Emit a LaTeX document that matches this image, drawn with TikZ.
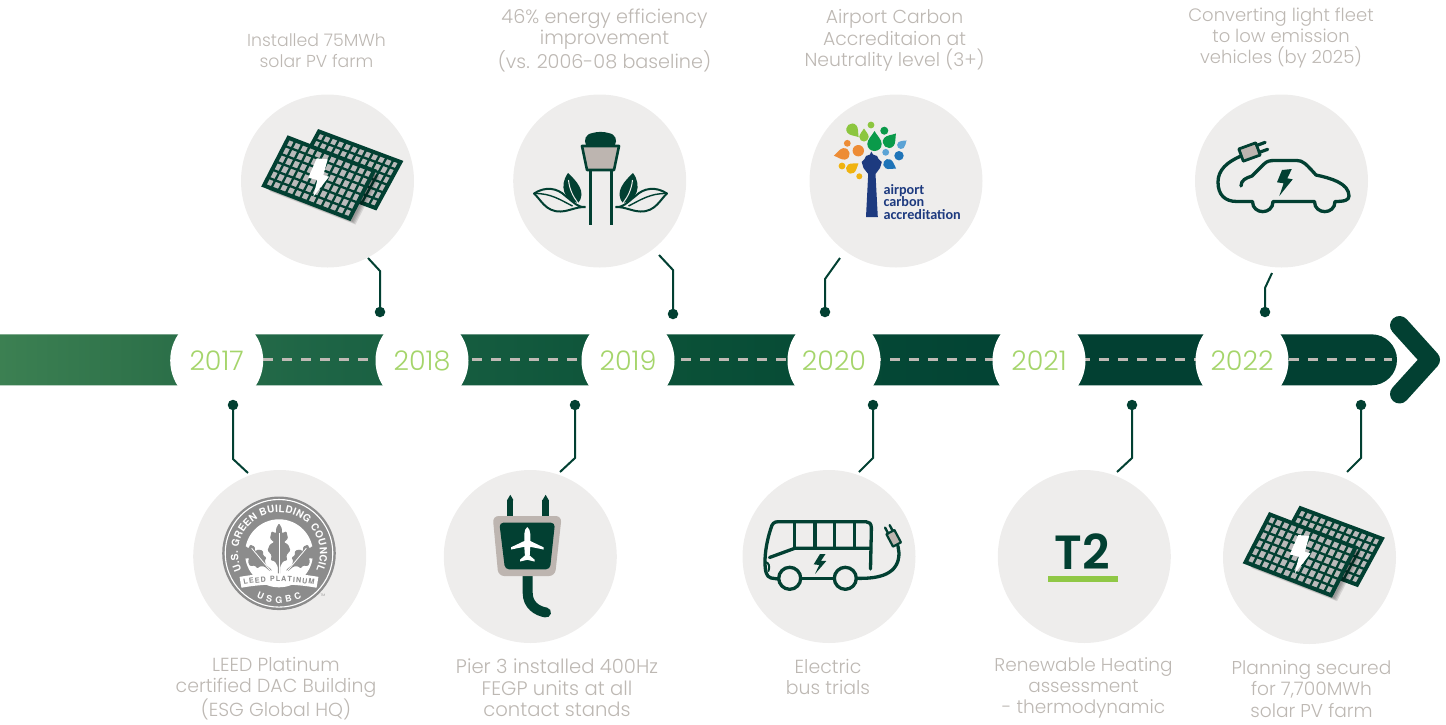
\documentclass[tikz,border=0pt]{standalone}
\usepackage{fontspec}
\setmainfont{Poppins Light}
\newfontfamily\tfont{Poppins SemiBold}
\newfontfamily\acafont{Carlito Bold}
\newfontfamily\seal{TeX Gyre Heros Bold}
\usetikzlibrary{decorations.text,calc}
\definecolor{dg}{HTML}{024032}
\definecolor{lab}{HTML}{BDB8B3}
\definecolor{yr}{HTML}{A5D56B}
\definecolor{disc}{HTML}{EEEDEC}
\definecolor{taupe}{HTML}{BDB5B0}
\definecolor{dashc}{HTML}{C0BAB5}
\definecolor{cellc}{HTML}{BABABA}
\definecolor{sealg}{HTML}{8C8C8C}
\definecolor{navy}{HTML}{1D3A7F}
\definecolor{acg}{HTML}{0A9A4A}
\definecolor{acl}{HTML}{8CC63F}
\definecolor{aco}{HTML}{ED8C35}
\definecolor{acy}{HTML}{F0B310}
\definecolor{acb}{HTML}{1F74B8}
\definecolor{acs}{HTML}{5BA3D5}
\pgfdeclarehorizontalshading{barshade}{100bp}{
 rgb(0bp)=(0.235,0.502,0.322);
 rgb(25bp)=(0.235,0.502,0.322);
 rgb(31bp)=(0.173,0.439,0.286);
 rgb(35.75bp)=(0.122,0.400,0.275);
 rgb(43bp)=(0.075,0.353,0.243);
 rgb(50bp)=(0.039,0.314,0.216);
 rgb(57bp)=(0.016,0.278,0.208);
 rgb(64.5bp)=(0.008,0.251,0.196);
 rgb(100bp)=(0.008,0.251,0.196)}
\tikzset{
 x=1pt,y=-1pt,
 disk/.style={circle,fill=disc,minimum size=173pt,inner sep=0pt},
 yearc/.style={circle,fill=white,minimum size=93pt,inner sep=0pt,text=yr,font=\fontsize{27}{27}\selectfont},
 lbl/.style={text=lab,align=center,inner sep=0pt,font=\fontsize{#1}{21.4}\selectfont},
 lbl/.default=18.8,
 dot/.style={circle,fill=dg,minimum size=10.5pt,inner sep=0pt},
 conn/.style={draw=dg,line width=2pt},
 ico/.style={draw=dg,line width=3.3pt,line cap=round,line join=round},
 seg/.style={draw=dashc,line width=2.4pt,dash pattern=on 10pt off 9pt}
}
\newcommand{\panelgrid}[6]{% x y ux uy vx vy
 \fill[cellc] (#1,#2) -- ++(#3,#4) -- ++(#5,#6) -- ++(-#3,-#4) -- cycle;
 \foreach \i in {1,...,11}{\draw[dg,line width=2.3pt] ({#1+\i*(#3)/12},{#2+\i*(#4)/12}) -- ++(#5,#6);}
 \foreach \j in {1,...,5}{\draw[dg,line width=2.3pt] ({#1+\j*(#5)/6},{#2+\j*(#6)/6}) -- ++(#3,#4);}
 \draw[dg,line width=4pt,line join=miter] (#1,#2) -- ++(#3,#4) -- ++(#5,#6) -- ++(-#3,-#4) -- cycle;
}
\newcommand{\solar}[2]{\begin{scope}[shift={(#1,#2)}]
 \panelgrid{30.5}{-6.3}{81.5}{30.5}{-25}{46}
 \foreach \o in {6,5,4,3}{\fill[black,opacity=0.10] (\o,\o) -- ++(85.5,33) -- ++(-24.5,47.7) -- ++(-85.5,-33) -- cycle;}
 \panelgrid{0}{0}{85.5}{33}{-24.5}{47.7}
 \fill[white] (28.2,20.5) -- (39.2,21.5) -- (34.8,37.2) -- (40.5,38.9) -- (24.8,58.9) -- (28.8,42.2) -- (19.8,39.9) -- cycle;
\end{scope}}
\newcommand{\drop}[5]{% x y angle size colour
 \fill[#5,shift={(#1,#2)},rotate=#3] (0,-#4) .. controls ({.25*#4},{-.55*#4}) and ({.72*#4},{-.15*#4}) .. ({.72*#4},{.3*#4}) .. controls ({.72*#4},{.75*#4}) and ({.35*#4},{#4}) .. (0,{#4}) .. controls ({-.35*#4},{#4}) and ({-.72*#4},{.75*#4}) .. ({-.72*#4},{.3*#4}) .. controls ({-.72*#4},{-.15*#4}) and ({-.25*#4},{-.55*#4}) .. cycle;
}
\newcommand{\halfoak}{(0,30) -- (3.5,25) -- (3.5,20) -- (9,22) -- (11,15) -- (6,11) -- (11,9) -- (14,3) -- (9,-2) -- (10,-7) -- (5,-8) -- (1.5,-13) -- (1.5,-24) -- (-1.5,-24) -- (-1.5,-13) -- (-5,-8) -- (-10,-7) -- (-9,-2) -- (-14,3) -- (-11,9) -- (-6,11) -- (-11,15) -- (-9,22) -- (-3.5,20) -- (-3.5,25) -- cycle}
\begin{document}
\begin{tikzpicture}
\useasboundingbox (0,0) rectangle (1446,724);

% ---------- timeline bar
\path[shade,shading=barshade] (0,334.3) -- (1371.5,334.3) .. controls (1385.6,334.3) and (1397,345.7) .. (1397,359.8) .. controls (1397,373.9) and (1385.6,385.3) .. (1371.5,385.3) -- (0,385.3) -- cycle;
\coordinate (dashA) at (263,359.5);
\coordinate (dashB) at (1392,359.5);
\draw[seg] (dashA) -- (dashB);
\coordinate (chevA) at (1399.5,325.5);
\coordinate (chevT) at (1430.5,359.8);
\coordinate (chevB) at (1399.5,394);
\draw[dg,line width=19pt,line cap=round,line join=round] (chevA) -- (chevT) -- (chevB);
\node[yearc] (y17) at (216.7,360.5) {2017};
\node[yearc] (y18) at (422,360.5) {2018};
\node[yearc] (y19) at (628,360.5) {2019};
\node[yearc] (y20) at (834,360.5) {2020};
\node[yearc] (y21) at (1039,360.5) {2021};
\node[yearc] (y22) at (1242,360.5) {2022};

% ---------- discs
\node[disk] (t1) at (327.5,181) {};
\node[disk] (t2) at (599.7,181) {};
\node[disk] (t3) at (896,181) {};
\node[disk] (t4) at (1281.5,181) {};
\node[disk] (b1) at (279.7,556.5) {};
\node[disk] (b2) at (530.3,556.5) {};
\node[disk] (b3) at (829,556.5) {};
\node[disk] (b4) at (1084.3,556.5) {};
\node[disk] (b5) at (1309.5,557.5) {};

% ---------- connectors
\node[dot] (dt1) at (380,312) {};
\coordinate (kt1) at (380,271); \coordinate (et1) at (368,258);
\draw[conn] (dt1.center) -- (kt1) -- (et1);
\node[dot] (dt2) at (673,314) {};
\coordinate (kt2) at (673,270); \coordinate (et2) at (659,255);
\draw[conn] (dt2.center) -- (kt2) -- (et2);
\node[dot] (dt3) at (825,312) {};
\coordinate (kt3) at (825,279); \coordinate (et3) at (840,258);
\draw[conn] (dt3.center) -- (kt3) -- (et3);
\node[dot] (dt4) at (1265,312) {};
\coordinate (kt4) at (1265,288); \coordinate (et4) at (1272,273);
\draw[conn] (dt4.center) -- (kt4) -- (et4);
\node[dot] (db1) at (233,405) {};
\coordinate (kb1) at (233,459); \coordinate (eb1) at (248,473);
\draw[conn] (db1.center) -- (kb1) -- (eb1);
\node[dot] (db2) at (575,405) {};
\coordinate (kb2) at (575,458); \coordinate (eb2) at (560,472);
\draw[conn] (db2.center) -- (kb2) -- (eb2);
\node[dot] (db3) at (873,405) {};
\coordinate (kb3) at (873,458); \coordinate (eb3) at (859,472);
\draw[conn] (db3.center) -- (kb3) -- (eb3);
\node[dot] (db4) at (1132,405) {};
\coordinate (kb4) at (1132,458); \coordinate (eb4) at (1117,472);
\draw[conn] (db4.center) -- (kb4) -- (eb4);
\node[dot] (db5) at (1361,405) {};
\coordinate (kb5) at (1361,458); \coordinate (eb5) at (1347,472);
\draw[conn] (db5.center) -- (kb5) -- (eb5);

% ---------- labels
\node[lbl=17.3] (lt1) at (316.5,50.5) {Installed 75MWh\\solar PV farm};
\node[lbl=19.2] (lt2) at (604.5,40.5) {46\% energy efficiency\\improvement\\(vs. 2006-08 baseline)};
\node[lbl=18.8] (lt3) at (894.5,40.5) {Airport Carbon\\Accreditaion at\\Neutrality level (3+)};
\node[lbl=18] (lt4) at (1281,38) {Converting light fleet\\to low emission\\vehicles (by 2025)};
\node[lbl=18.9] (lb1) at (276,688.5) {LEED Platinum\\certified DAC Building\\(ESG Global HQ)};
\node[lbl=19.6] (lb2) at (557,688) {Pier 3 installed 400Hz\\FEGP units at all\\contact stands};
\node[lbl=18.9] (lb3) at (828,677) {Electric\\bus trials};
\node[lbl=18.5] (lb4) at (1083.5,688) {Renewable Heating\\assessment\\- thermodynamic};
\node[lbl=18.6] (lb5) at (1311.5,689) {Planning secured\\for 7,700MWh\\solar PV farm};

% ---------- solar icons
\solar{288.5}{137.8}
\solar{1270}{514.5}

% ---------- tower icon
\begin{scope}[shift={(600.5,0)}]
 \fill[dg] (-14.5,145) .. controls (-17,140) and (-15,134) .. (-8,133) .. controls (-3,131.5) and (3,131.5) .. (8,133) .. controls (15,134) and (17,140) .. (14.5,145) -- cycle;
 \filldraw[fill=taupe,draw=dg,line width=2.6pt,line join=round] (-18.5,146) -- (18.5,146) -- (13.5,170) -- (-13.5,170) -- cycle;
 \draw[dg,line width=3pt] (-10.5,170) -- (-10.5,225) (10.5,170) -- (10.5,225);
 \foreach \s in {-1,1}{\begin{scope}[xscale=\s]
  \fill[dg] (-32.5,173) .. controls (-25,180) and (-13,192) .. (-22.5,203) .. controls (-36,201) and (-42,186) .. cycle;
  \draw[disc,line width=1pt] (-32,180) .. controls (-31,190) and (-27,197) .. (-22.5,203);
  \draw[dg,line width=2pt,line join=round] (-15,207) .. controls (-22,208) and (-26,203) .. (-35,196) .. controls (-43,188) and (-55,186) .. (-66.5,193.5) .. controls (-60,199) and (-55,212) .. (-40,211.5) .. controls (-30,211) and (-26,207) .. (-15,207);
  \draw[dg,line width=1.4pt] (-66.5,193.5) .. controls (-50,193) and (-40,200) .. (-28,206);
 \end{scope}}
\end{scope}

% ---------- airport carbon accreditation logo
\drop{874.5}{141}{0}{10}{acg}
\drop{853.5}{131}{-140}{8}{acl}
\drop{864}{135}{0}{6.5}{acl}
\drop{890.5}{140}{-40}{8.5}{acg}
\drop{902.3}{144}{-50}{5.5}{acs}
\drop{841.7}{154.3}{100}{8}{aco}
\drop{852.7}{167.5}{-55}{7}{acy}
\drop{890}{165}{-120}{7}{acb}
\fill[acl] (871,125) circle[radius=3.4pt];
\fill[acg] (884.3,130.7) circle[radius=4pt];
\fill[aco] (847.3,143.3) circle[radius=3.4pt];
\fill[aco] (858.3,150.7) circle[radius=5.7pt];
\fill[acy] (842,166) circle[radius=3.4pt];
\fill[acy] (859.3,176.3) circle[radius=3pt];
\fill[acs] (885.7,152.3) circle[radius=3.4pt];
\fill[acb] (899,155.7) circle[radius=4.7pt];
\fill[navy] (871.3,151.5) -- (873,154.5) -- (877,156) -- (878.5,159) -- (881.8,162) -- (880,168) -- (875.5,174) -- (877.8,217) -- (866,217) -- (868.2,174) -- (863.5,168) -- (861.7,162) -- (864.5,159) -- (866,156) -- (870,154.5) -- cycle;
\node[text=navy,anchor=south west,align=left,inner sep=0pt,font=\acafont\fontsize{14.2}{12.2}\selectfont] (aca) at (883.3,219.3) {airport\\carbon\\accreditation};

% ---------- EV icon
\draw[ico] (1241,186) .. controls (1241,180) and (1246,178) .. (1252,176) -- (1264,164) .. controls (1267,161) and (1270,160.5) .. (1275,160.5) -- (1297,160.5) .. controls (1303,160.5) and (1306,164) .. (1316,175) .. controls (1330,178) and (1349,183) .. (1349,196) .. controls (1349,200) and (1345,201.5) .. (1335,201.5) .. controls (1335,215) and (1314.5,215) .. (1314.5,201.5) -- (1273,201.5) .. controls (1273,215) and (1252.5,215) .. (1252.5,201.5) -- (1237,201.5) .. controls (1225,201.5) and (1218,195) .. (1218,182) .. controls (1218,170) and (1227,162) .. (1241,156);
\fill[dg] (1282,170) -- (1291.8,169) -- (1287.3,178.3) -- (1292.7,179.3) -- (1279.3,196) -- (1283.6,183.3) -- (1277,182.3) -- cycle;
\begin{scope}[shift={(1249.5,152)},rotate=20]
 \filldraw[fill=taupe,draw=dg,line width=2.8pt,line join=round] (-9,-6.5) rectangle (9,6.5);
 \draw[dg,line width=3.2pt,line cap=round] (9,-3.7) -- (18,-3.7) (9,3.7) -- (18,3.7);
\end{scope}

% ---------- LEED seal
\begin{scope}[shift={(279,553.3)},y=1pt]
 \fill[sealg] (0,0) circle[radius=56.8pt];
 \draw[white,line width=1.1pt] (0,0) circle[radius=53.8pt];
 \fill[white] (0,0) circle[radius=34pt];
 \begin{scope}[shift={(0,-24)}]
  \fill[sealg,rounded corners=1pt,xscale=.82,shift={(0,24)}] \halfoak;
  \fill[sealg,rounded corners=1pt,rotate=50,scale=.72,shift={(0,38)}] \halfoak;
  \fill[sealg,rounded corners=1pt,rotate=-50,scale=.72,shift={(0,38)}] \halfoak;
  \draw[white,line width=.9pt] (0,0) -- (0,44);
  \draw[white,line width=.8pt] (-3,0) -- ++(130:38);
  \draw[white,line width=.8pt] (3,0) -- ++(50:38);
 \end{scope}
 \draw[white,line width=11pt] (-38.5,-29) .. controls (-14,-24.5) and (14,-24.5) .. (38.5,-29);
 \path[postaction={decorate,decoration={text along path,text align={fit to path},raise=-2.7pt,text={|\seal\fontsize{7.2}{8}\selectfont\color{sealg}|LEED PLATINUM}}}] (-35.5,-29) .. controls (-13,-24.5) and (13,-24.5) .. (35.5,-29);
 \path[postaction={decorate,decoration={text along path,text align={fit to path},text={|\seal\fontsize{10}{10}\selectfont\color{white}|U.S. GREEN BUILDING COUNCIL}}}] (205:41) arc[start angle=205,end angle=-25,radius=41pt];
 \path[postaction={decorate,decoration={text along path,text align={fit to path},text={|\seal\fontsize{9}{9}\selectfont\color{white}|USGBC}}}] (243:50) arc[start angle=243,end angle=297,radius=50pt];
\end{scope}
\node[text=sealg,inner sep=0pt,font=\fontsize{3.5}{4}\selectfont] (tm) at (323,595.5) {TM};

% ---------- plug icon
\draw[dg,line width=6.3pt,line cap=butt] (510.3,517) -- (510.3,500) (545.6,517) -- (545.6,500);
\fill[dg] (507.1,500.2) -- (510.3,494.8) -- (513.5,500.2) -- cycle;
\fill[dg] (542.4,500.2) -- (545.6,494.8) -- (548.8,500.2) -- cycle;
\draw[dg,line width=10pt,line cap=round] (527.7,570) -- (527.7,593) .. controls (527.7,605) and (537,611) .. (546,612.5);
\fill[taupe,rounded corners=6pt] (492.7,516) -- (561.7,516) -- (555,576) -- (498.3,576) -- cycle;
\fill[dg,rounded corners=4pt] (499.3,522.7) -- (555,522.7) -- (550,569.3) -- (505,569.3) -- cycle;
\fill[white] (527.3,527) .. controls (529,528) and (530.3,531) .. (530.3,534) -- (530.3,541) -- (543.5,547.3) -- (543.5,549.5) -- (530.3,546.8) -- (529.7,555.5) -- (534.5,559.6) -- (534.5,561.5) -- (527.3,559.8) -- (520.1,561.5) -- (520.1,559.6) -- (524.9,555.5) -- (524.3,546.8) -- (511,549.5) -- (511,547.3) -- (524.3,541) -- (524.3,534) .. controls (524.3,531) and (525.6,528) .. (527.3,527) -- cycle;

% ---------- bus icon
\draw[ico] (870.5,569) -- (871.4,528) .. controls (871.4,523.5) and (869,521.7) .. (866,521.7) -- (778,521.7) .. controls (774,521.7) and (772,524) .. (771,528) .. controls (767,540) and (765,552) .. (765,562) .. controls (765,570) and (766,577) .. (771,578) -- (778,579);
\draw[ico] (769.5,557.5) -- (794.7,548.3) -- (870.5,548.3);
\draw[ico] (794.7,522) -- (794.7,548.3) (815,522) -- (815,548.3) (834.7,522) -- (834.7,548.3) (854.5,522) -- (854.5,548.3);
\draw[ico,line width=2pt] (765.5,562) .. controls (769,563) and (770,566) .. (768.5,571);
\draw[ico] (789.7,578.3) circle[radius=11pt];
\draw[ico] (845.3,578.3) circle[radius=11pt];
\draw[ico] (800.7,578.3) -- (834.3,578.3);
\draw[ico] (856.3,578.3) .. controls (880,579) and (899,574) .. (899,553) -- (898,546);
\fill[dg] (820,554) -- (825.5,554) -- (821,560.8) -- (826.3,561) -- (815,574) -- (819.2,565) -- (813.7,564.3) -- cycle;
\begin{scope}[shift={(893.7,538.3)},rotate=118]
 \filldraw[fill=taupe,draw=dg,line width=2.2pt,line join=round] (-7,-4.5) rectangle (7,4.5);
 \draw[dg,line width=2.4pt,line cap=round] (7,-2.6) -- (13.5,-2.6) (7,2.6) -- (13.5,2.6);
\end{scope}

% ---------- T2
\node[text=dg,inner sep=0pt,font=\tfont\fontsize{48}{48}\selectfont] (tt) at (1082.5,552) {T2};
\coordinate (uA) at (1048.2,576); \coordinate (uB) at (1117.7,581.7);
\fill[acl!85!yr] (uA) rectangle (uB);
\end{tikzpicture}
\end{document}
